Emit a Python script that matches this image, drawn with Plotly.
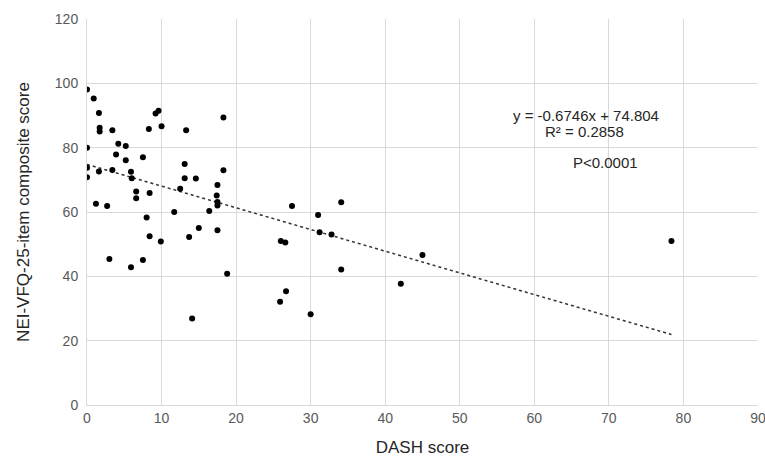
import plotly.graph_objects as go

# DASH score (x) and NEI-VFQ-25 composite score (y)
dash_score = [0.0, 0.9, 1.6, 1.7, 1.7, 3.4, 0.0, 4.2, 5.2, 3.9, 5.2, 7.5, 0.0, 0.0,
              1.6, 3.4, 5.9, 6.0, 6.6, 6.6, 8.4, 8.3, 9.2, 9.6, 10.0, 13.3, 13.1,
              13.1, 14.6, 12.5, 1.2, 2.7, 8.0, 11.7, 8.4, 9.9, 13.7, 15.0, 3.0,
              5.9, 7.5, 14.1, 18.3, 18.3, 17.5, 17.4, 17.5, 17.5, 16.4, 17.5,
              18.8, 27.5, 34.1, 31.0, 31.2, 32.8, 26.0, 26.6, 45.0, 34.1, 26.7,
              25.9, 30.0, 42.1, 78.4]
vfq_score = [98.1, 95.3, 90.8, 86.2, 85.0, 85.4, 80.0, 81.2, 80.5, 77.9, 76.1, 77.0,
             73.8, 70.8, 72.6, 73.1, 72.5, 70.5, 66.4, 64.3, 65.9, 85.8, 90.6, 91.5,
             86.7, 85.4, 74.9, 70.5, 70.4, 67.2, 62.6, 61.9, 58.3, 60.0, 52.5, 50.8,
             52.2, 55.0, 45.4, 42.8, 45.1, 26.9, 89.4, 73.0, 68.4, 65.1, 63.1, 62.0,
             60.3, 54.3, 40.8, 61.9, 63.0, 59.1, 53.7, 53.0, 51.0, 50.5, 46.6, 42.1,
             35.4, 32.1, 28.2, 37.7, 51.0]

# Linear trend from the reported regression
slope = -0.6746
intercept = 74.804
r_squared = 0.2858
p_text = "P<0.0001"

x_ticks = [0, 10, 20, 30, 40, 50, 60, 70, 80, 90]
y_ticks = [0, 20, 40, 60, 80, 100, 120]

trend_x = [0, max(dash_score)]
trend_y = [slope * v + intercept for v in trend_x]

font_family = "Liberation Sans, Arial, sans-serif"
grid_color = "#d9d9d9"
tick_color = "#595959"
text_color = "#262626"

fig = go.Figure()
fig.add_trace(go.Scatter(
    x=trend_x, y=trend_y, mode="lines",
    line=dict(color="#333333", width=1.5, dash="dot"),
    hoverinfo="skip", showlegend=False,
))
fig.add_trace(go.Scatter(
    x=dash_score, y=vfq_score, mode="markers",
    marker=dict(color="black", size=6),
    showlegend=False,
))

ann_font = dict(family=font_family, size=15, color=text_color)
fig.add_annotation(x=66.9, y=90.1, xref="x", yref="y",
                   text=f"y = {slope}x + {intercept}", showarrow=False, font=ann_font)
fig.add_annotation(x=66.8, y=84.9, xref="x", yref="y",
                   text=f"R² = {r_squared}", showarrow=False, font=ann_font)
fig.add_annotation(x=69.5, y=75.5, xref="x", yref="y",
                   text=p_text, showarrow=False, font=ann_font)

fig.update_layout(
    width=765, height=457,
    margin=dict(l=87, r=7, t=19, b=52),
    paper_bgcolor="white", plot_bgcolor="white",
    font=dict(family=font_family, size=13, color=tick_color),
    xaxis=dict(
        range=[0, 90.01], tickvals=x_ticks, showgrid=True, gridcolor=grid_color,
        gridwidth=1, zeroline=False, showline=True, linecolor=grid_color,
        linewidth=1, ticks="", ticklen=0, automargin=False, ticklabeloverflow="allow",
        title=dict(text="DASH score", font=dict(family=font_family, size=17, color=text_color), standoff=18),
        tickfont=dict(family=font_family, size=14, color=tick_color),
    ),
    yaxis=dict(
        range=[0, 120.01], tickvals=y_ticks, showgrid=True, gridcolor=grid_color,
        gridwidth=1, zeroline=False, showline=True, linecolor=grid_color,
        linewidth=1, ticks="", ticklen=0, automargin=False, ticklabelstandoff=5,
        ticklabeloverflow="allow",
        title=dict(text="NEI-VFQ-25-item composite score", font=dict(family=font_family, size=17, color=text_color), standoff=20),
        tickfont=dict(family=font_family, size=14, color=tick_color),
    ),
)

fig.write_html("out.html", config={"displayModeBar": False},
               post_script="document.body.style.margin='0';")
